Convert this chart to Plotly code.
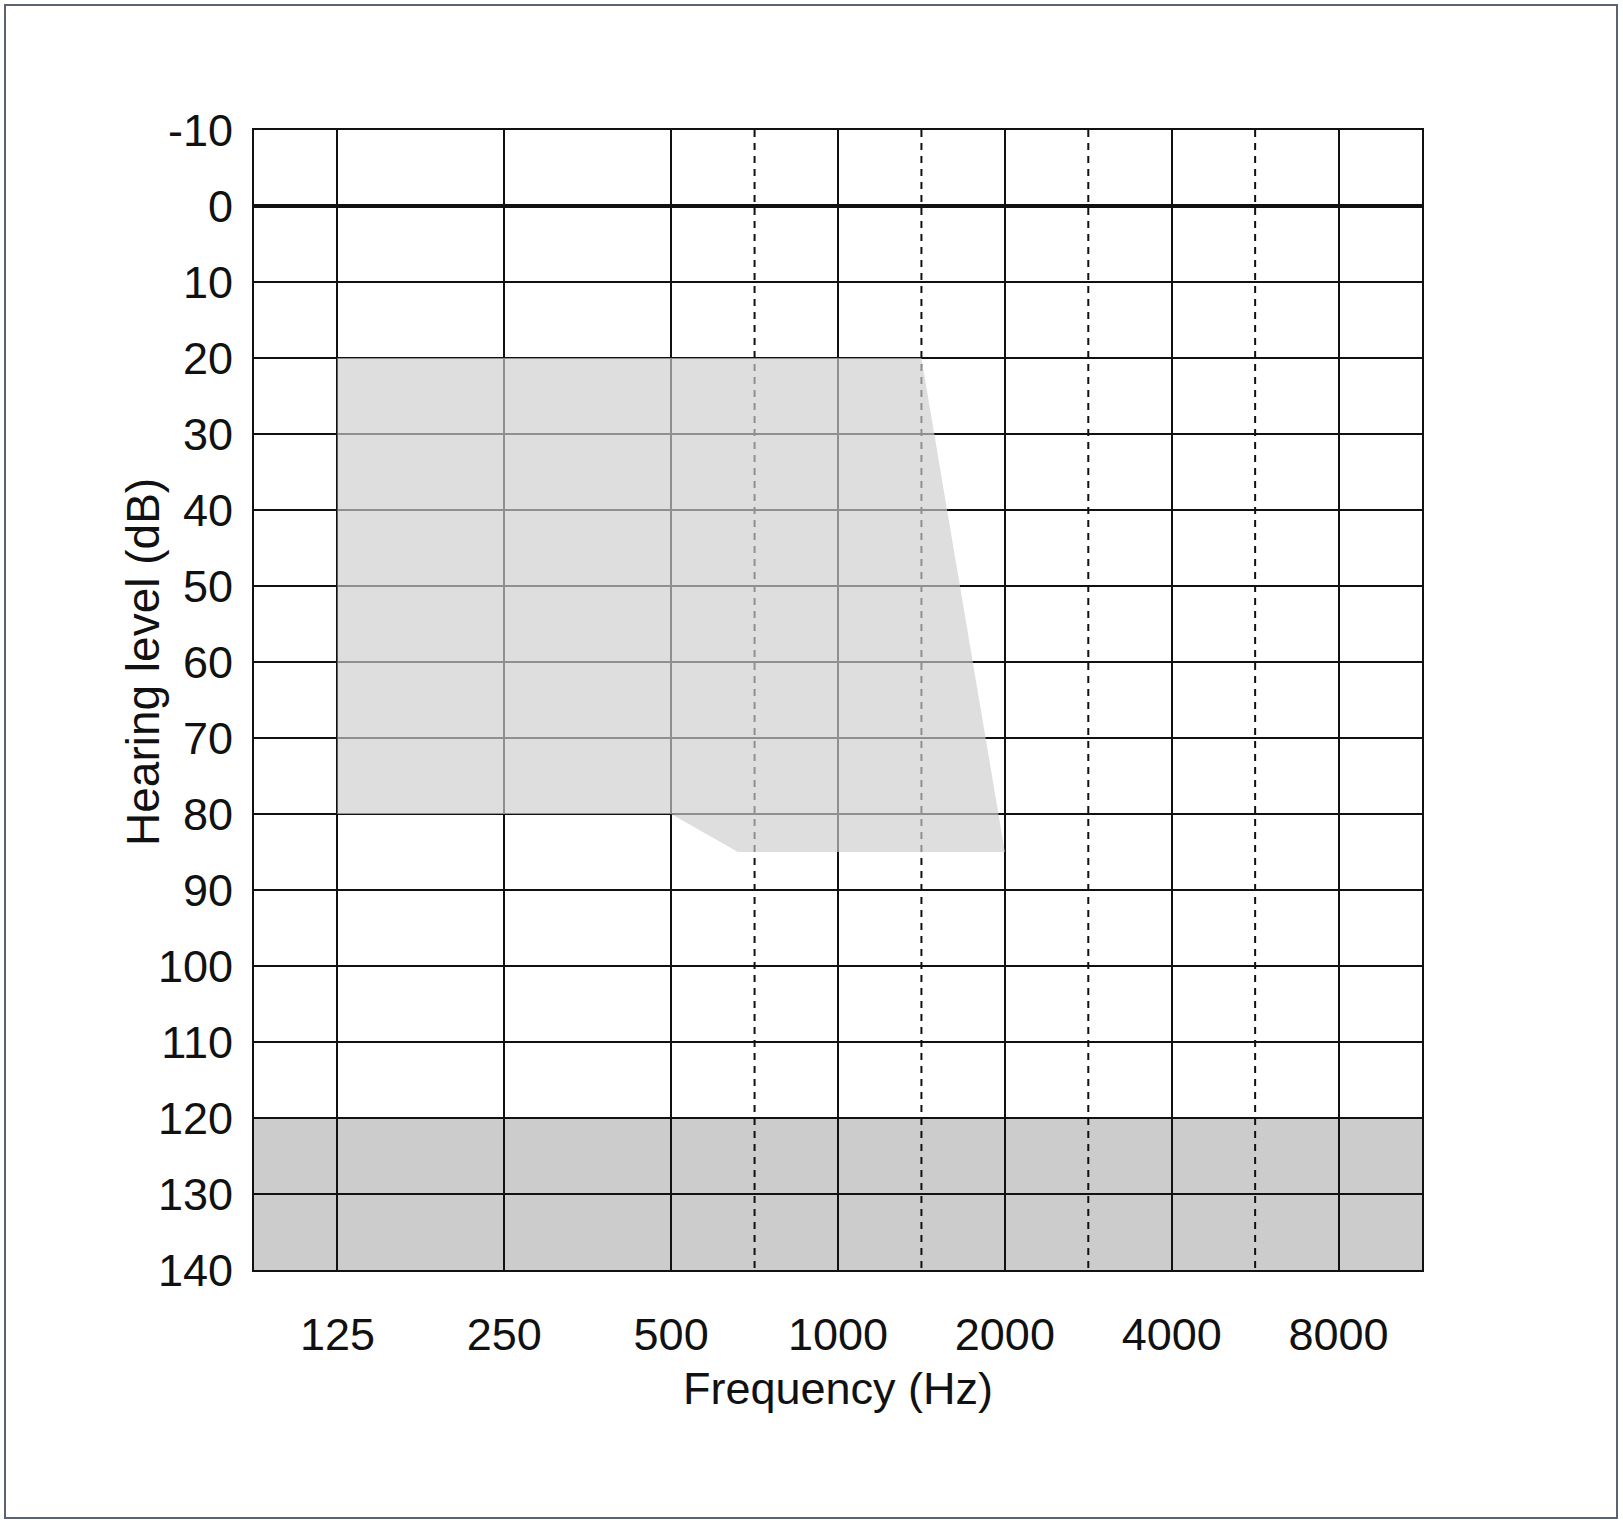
import plotly.graph_objects as go

# audiogram axes: octave positions (0 = 125 Hz) and their labels
freq_pos = [0, 1, 2, 3, 4, 5, 6]
freq_labels = ["125", "250", "500", "1000", "2000", "4000", "8000"]
half_octave_pos = [2.5, 3.5, 4.5, 5.5]  # 750, 1500, 3000, 6000 Hz
db_ticks = [-10, 0, 10, 20, 30, 40, 50, 60, 70, 80, 90, 100, 110, 120, 130, 140]
db_labels = ["-10"] + [str(v) for v in db_ticks[1:]]

# shaded region (octave position, dB)
region_x = [0, 3.5, 4.0, 2.4, 2.0, 0]
region_db = [20, 20, 85, 85, 80, 80]

# out-of-range band at the bottom
band_db = [120, 140]

W, H = 1623, 1524
L, R, T, B = 254, 1422, 130, 1270
font = "Liberation Sans, Arial, sans-serif"

fig = go.Figure()
fig.add_trace(go.Scatter(
    x=region_x, y=region_db, mode="lines", fill="toself",
    fillcolor="rgba(206,206,206,0.67)", line=dict(width=0),
    hoverinfo="skip", showlegend=False,
))

# grey band under the grid
fig.add_shape(type="rect", xref="paper", yref="y", x0=0, x1=1,
              y0=band_db[0], y1=band_db[1], fillcolor="#cccccc",
              line=dict(width=0), layer="below")

# dashed half-octave lines
for xp in half_octave_pos:
    fig.add_shape(type="line", xref="x", yref="y", x0=xp, x1=xp,
                  y0=-10, y1=140, line=dict(color="#111", width=2, dash="7px,6px"),
                  layer="between")

# outer frame of the figure
fig.add_shape(type="rect", xref="paper", yref="paper",
              x0=(5 - L) / (R - L), x1=(1617 - L) / (R - L),
              y0=(B - 1518) / (B - T), y1=(B - 5) / (B - T),
              line=dict(color="#5b6372", width=2), fillcolor="rgba(0,0,0,0)")

fig.add_annotation(text="Frequency (Hz)", xref="paper", yref="paper",
                   x=0.5, y=(B - 1388) / (B - T), showarrow=False,
                   xanchor="center", yanchor="middle",
                   font=dict(size=45, color="#111", family=font))
fig.add_annotation(text="Hearing level (dB)", xref="paper", yref="paper",
                   x=(143 - L) / (R - L), y=(B - 662) / (B - T), showarrow=False,
                   xanchor="center", yanchor="middle",
                   textangle=-90, font=dict(size=46, color="#111", family=font))

fig.update_xaxes(
    range=[-0.5, 6.5], tickvals=freq_pos, ticktext=freq_labels,
    showgrid=True, gridcolor="#111", gridwidth=2, zeroline=False,
    showline=True, linecolor="#111", linewidth=2, mirror=True,
    ticks="outside", ticklen=0, ticklabelstandoff=24,
    tickfont=dict(size=45, color="#111", family=font),
)
fig.update_yaxes(
    range=[140, -10], tickvals=db_ticks, ticktext=db_labels,
    showgrid=True, gridcolor="#111", gridwidth=2,
    zeroline=True, zerolinecolor="#111", zerolinewidth=4,
    showline=True, linecolor="#111", linewidth=2, mirror=True,
    ticks="outside", ticklen=0, ticklabelstandoff=10,
    tickfont=dict(size=45, color="#111", family=font),
)
fig.update_layout(
    width=W, height=H,
    margin=dict(l=L, r=W - R, t=T, b=H - B),
    plot_bgcolor="white", paper_bgcolor="white",
    showlegend=False,
)

fig.write_html("out.html", config={"displayModeBar": False},
               post_script="document.body.style.margin='0';")
